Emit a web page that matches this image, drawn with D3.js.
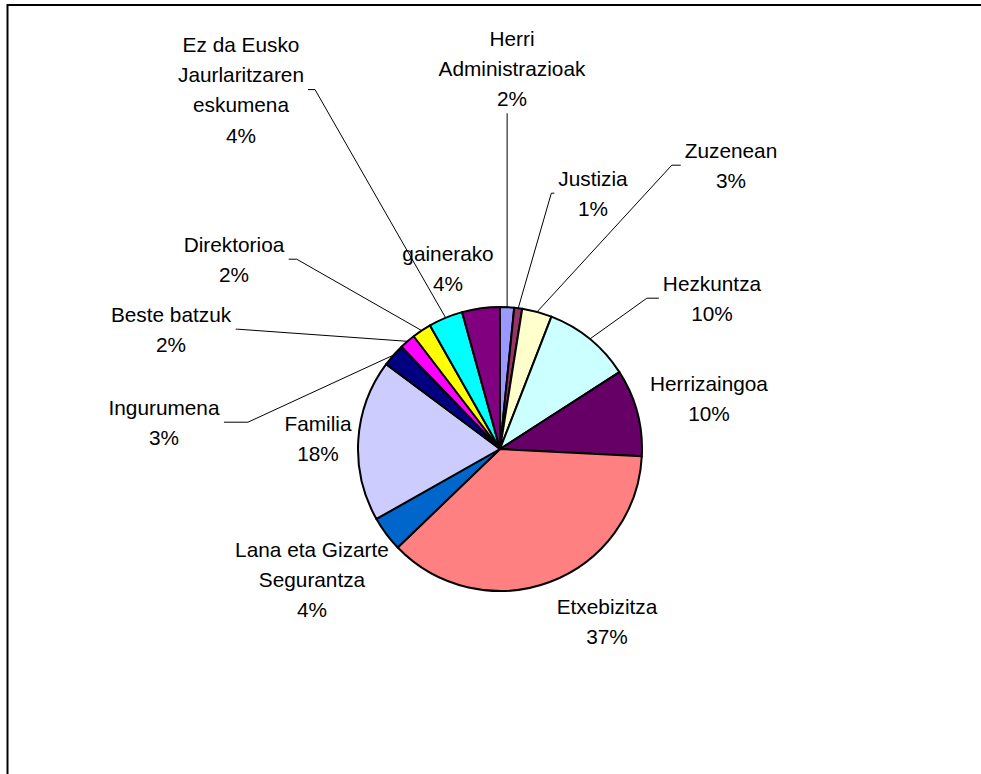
<!DOCTYPE html>
<html>
<head>
<meta charset="utf-8">
<script src="https://cdn.jsdelivr.net/npm/d3@7"></script>
<style>
  html, body { margin: 0; background: #fff; overflow: hidden; }
  svg { display: block; }
  text { font-family: "Liberation Sans", Arial, sans-serif; font-size: 20.8px; fill: #000; }
</style>
</head>
<body>
<svg width="981" height="774"></svg>
<script>
// categories, clockwise from 12 o'clock
const categories = [
    'Herri\nAdministrazioak', 'Justizia', 'Zuzenean', 'Hezkuntza', 'Herrizaingoa',
    'Etxebizitza', 'Lana eta Gizarte\nSegurantza', 'Familia', 'Ingurumena',
    'Beste batzuk', 'Direktorioa', 'Ez da Eusko\nJaurlaritzaren\neskumena', 'gainerako'
];
const values = [1.6, 0.9, 3.4, 10.0, 9.9, 37.0, 4.0, 18.4, 2.6, 1.8, 2.2, 3.9, 4.3];
const colors = [
    '#9999FF', '#993366', '#FFFFCC', '#CCFFFF', '#660066',
    '#FF8080', '#0066CC', '#CCCCFF', '#000080', '#FF00FF',
    '#FFFF00', '#00FFFF', '#800080'
];

// where each label block sits (center of first line) and how its leader attaches
const labelPos = [
    [512, 38], [593, 178], [731, 150], [712, 283], [709, 383],
    [607, 606], [312, 549], [318, 423], [164, 407], [171, 314],
    [234, 244], [241, 44], [448, 253]
];
// 'top' = leader to bottom of label, 'left'/'right' = side of label the leader reaches, null = no leader
const leaderSide = ['top', 'left', 'left', 'left', null, null, null, null, 'right', 'right', 'right', 'right', null];
const elbowLen = [0, 3, 9, 12, 0, 0, 0, 0, 24, 2, 8, 7, 0];

const cx = 500, cy = 449, radius = 142;
const lineH = 30.4;

const svg = d3.select('svg');

// chart area frame: only top and left edges are inside the window
svg.append('path')
    .attr('d', 'M7.5,981 V5 H981')
    .attr('fill', 'none')
    .attr('stroke', '#000')
    .attr('stroke-width', 2);

const pie = d3.pie().sort(null).startAngle(0).endAngle(2 * Math.PI);
const pieData = pie(values);
const total = d3.sum(values);

const arc = d3.arc().innerRadius(0).outerRadius(radius);

const g = svg.append('g')
    .attr('transform', `translate(${cx}, ${cy})`);

g.selectAll('path')
    .data(pieData)
    .enter()
    .append('path')
    .attr('d', arc)
    .attr('fill', (d, i) => colors[i])
    .attr('stroke', '#000')
    .attr('stroke-width', 2)
    .attr('stroke-linejoin', 'round');

// labels
const labels = svg.append('g');
const boxes = [];
pieData.forEach((d, i) => {
    const lines = categories[i].split('\n').concat([Math.round(d.value / total * 100) + '%']);
    const t = labels.append('text')
        .attr('text-anchor', 'middle');
    lines.forEach((s, k) => {
        t.append('tspan')
            .attr('x', labelPos[i][0])
            .attr('y', labelPos[i][1] + k * lineH + 7.5)
            .text(s);
    });
    boxes.push(t.node().getBBox());
});

// leader lines
const leaders = svg.append('g');
pieData.forEach((d, i) => {
    const side = leaderSide[i];
    if (!side) return;
    const a = (d.startAngle + d.endAngle) / 2;
    const sx = cx + radius * Math.sin(a);
    const sy = cy - radius * Math.cos(a);
    const b = boxes[i];
    let pts;
    if (side === 'top') {
        pts = [[sx, sy], [sx, b.y + b.height + 3]];
    } else {
        const my = b.y + b.height / 2;
        const ex = side === 'left' ? b.x - 4 : b.x + b.width + 4;
        const elx = side === 'left' ? ex - elbowLen[i] : ex + elbowLen[i];
        pts = [[sx, sy], [elx, my], [ex, my]];
    }
    leaders.append('path')
        .attr('d', d3.line()(pts))
        .attr('fill', 'none')
        .attr('stroke', '#000')
        .attr('stroke-width', 1);
});
</script>
</body>
</html>
